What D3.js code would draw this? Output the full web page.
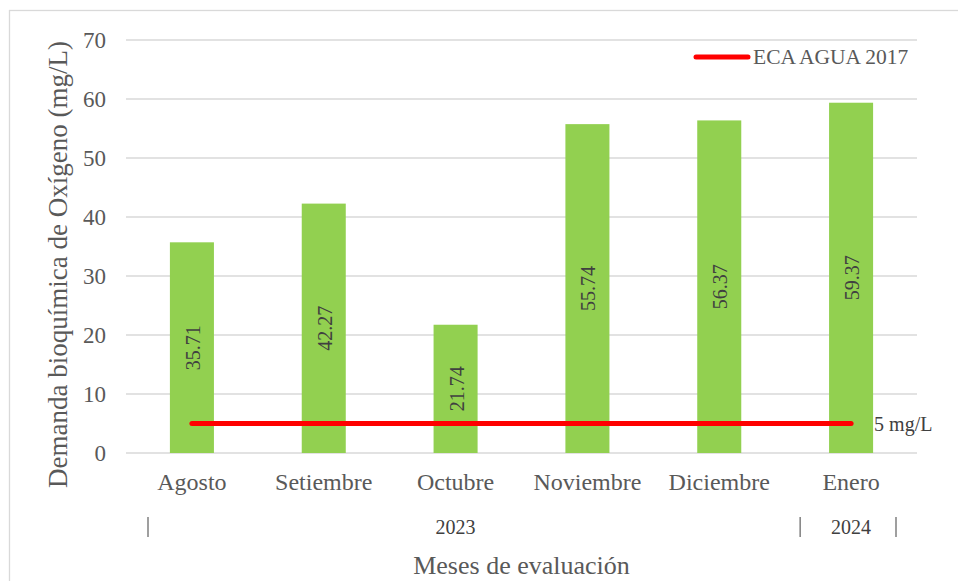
<!DOCTYPE html>
<html lang="es">
<head>
  <meta charset="UTF-8">
  <title>DBO</title>
  <script src="https://d3js.org/d3.v7.min.js"></script>
  <style>
    body { margin: 0; background: #fff; }
    .grid line { stroke: #d9d9d9; stroke-width: 1.3px; }
  </style>
</head>
<body>
  <svg width="958" height="581"></svg>
  <script>
    const months = ["Agosto", "Setiembre", "Octubre", "Noviembre", "Diciembre", "Enero"];
    const dbo = [35.71, 42.27, 21.74, 55.74, 56.37, 59.37];
    const eca = [5, 5, 5, 5, 5, 5];
    const years = [{ label: "2023", from: 0, to: 5 }, { label: "2024", from: 5, to: 6 }];
    const yTicks = [0, 10, 20, 30, 40, 50, 60, 70];

    const svg = d3.select("svg");
    const margin = { top: 40, right: 41, bottom: 128, left: 126 };
    const width = 958, height = 581;

    // outer chart border
    svg.append("rect")
      .attr("x", 9.5).attr("y", 10.5)
      .attr("width", 960).attr("height", 600)
      .attr("fill", "none").attr("stroke", "#d9d9d9").attr("stroke-width", 1.3);

    const x = d3.scaleBand()
      .domain(months)
      .range([margin.left, width - margin.right])
      .paddingInner(0.666).paddingOuter(0.333);

    const y = d3.scaleLinear()
      .domain([0, 70])
      .range([height - margin.bottom, margin.top]);

    const step = x.step();
    const x0 = margin.left;

    // gridlines
    svg.append("g").attr("class", "grid")
      .selectAll("line").data(yTicks).join("line")
      .attr("x1", x0).attr("x2", width - margin.right)
      .attr("y1", d => y(d)).attr("y2", d => y(d));

    // y axis labels
    const yAxis = svg.append("g")
      .attr("transform", `translate(${margin.left},0)`)
      .call(d3.axisLeft(y).tickValues(yTicks).tickSize(0).tickPadding(20));
    yAxis.select(".domain").remove();
    yAxis.selectAll("text")
      .attr("font-size", 23).attr("fill", "#595959");

    // bars
    svg.selectAll(".bar").data(dbo).join("rect")
      .attr("class", "bar")
      .attr("x", (d, i) => x(months[i]))
      .attr("width", x.bandwidth())
      .attr("y", d => y(d))
      .attr("height", d => y(0) - y(d))
      .attr("fill", "#92d050");

    // bar value labels
    svg.selectAll(".val").data(dbo).join("text")
      .attr("class", "val")
      .attr("transform", (d, i) => `translate(${x(months[i]) + x.bandwidth() / 2 + 1},${(y(0) + y(d)) / 2}) rotate(-90)`)
      .attr("text-anchor", "middle")
      .attr("dy", "0.35em")
      .attr("font-size", 20).attr("fill", "#404040")
      .text(d => d.toFixed(2));

    // ECA line
    const line = d3.line()
      .x((d, i) => x(months[i]) + x.bandwidth() / 2)
      .y(d => y(d));
    svg.append("path")
      .datum(eca)
      .attr("d", line)
      .attr("fill", "none").attr("stroke", "#ff0000")
      .attr("stroke-width", 5).attr("stroke-linecap", "round");

    svg.append("text")
      .attr("x", x(months[5]) + x.bandwidth() + 1)
      .attr("y", y(eca[5]) + 7)
      .attr("font-size", 20).attr("fill", "#404040")
      .text("5 mg/L");

    // month labels
    svg.selectAll(".month").data(months).join("text")
      .attr("class", "month")
      .attr("x", d => x(d) + x.bandwidth() / 2)
      .attr("y", y(0) + 37)
      .attr("text-anchor", "middle")
      .attr("font-size", 24).attr("fill", "#595959")
      .text(d => d);

    // year row
    const sepY = y(0) + 64;
    const seps = [x0 + 22, x0 + step * 5 + 15, x0 + step * 6 - 21];
    svg.selectAll(".sep").data(seps).join("line")
      .attr("x1", d => d).attr("x2", d => d)
      .attr("y1", sepY).attr("y2", sepY + 20)
      .attr("stroke", "#7f7f7f").attr("stroke-width", 1.5);
    svg.selectAll(".year").data(years).join("text")
      .attr("class", "year")
      .attr("x", d => x0 + step * (d.from + d.to) / 2)
      .attr("y", sepY + 17)
      .attr("text-anchor", "middle")
      .attr("font-size", 20).attr("fill", "#404040")
      .text(d => d.label);

    // axis titles
    svg.append("text")
      .attr("x", x0 + step * 3)
      .attr("y", height - 7)
      .attr("text-anchor", "middle")
      .attr("font-size", 26).attr("fill", "#595959")
      .text("Meses de evaluación");

    svg.append("text")
      .attr("transform", `translate(67,${(y(0) + y(70)) / 2 + 18}) rotate(-90)`)
      .attr("text-anchor", "middle")
      .attr("font-size", 27).attr("fill", "#595959")
      .text("Demanda bioquímica de Oxígeno (mg/L)");

    // legend
    const lg = svg.append("g").attr("transform", "translate(696,57)");
    lg.append("line")
      .attr("x1", 0).attr("x2", 52)
      .attr("stroke", "#ff0000").attr("stroke-width", 5).attr("stroke-linecap", "round");
    lg.append("text")
      .attr("x", 57).attr("y", 7)
      .attr("font-size", 21.5).attr("fill", "#595959")
      .text("ECA AGUA 2017");

    // Times-like serif on every text, set inline so it wins over axis defaults
    svg.selectAll("text").style("font-family", '"Liberation Serif", "Times New Roman", serif');
  </script>
</body>
</html>
